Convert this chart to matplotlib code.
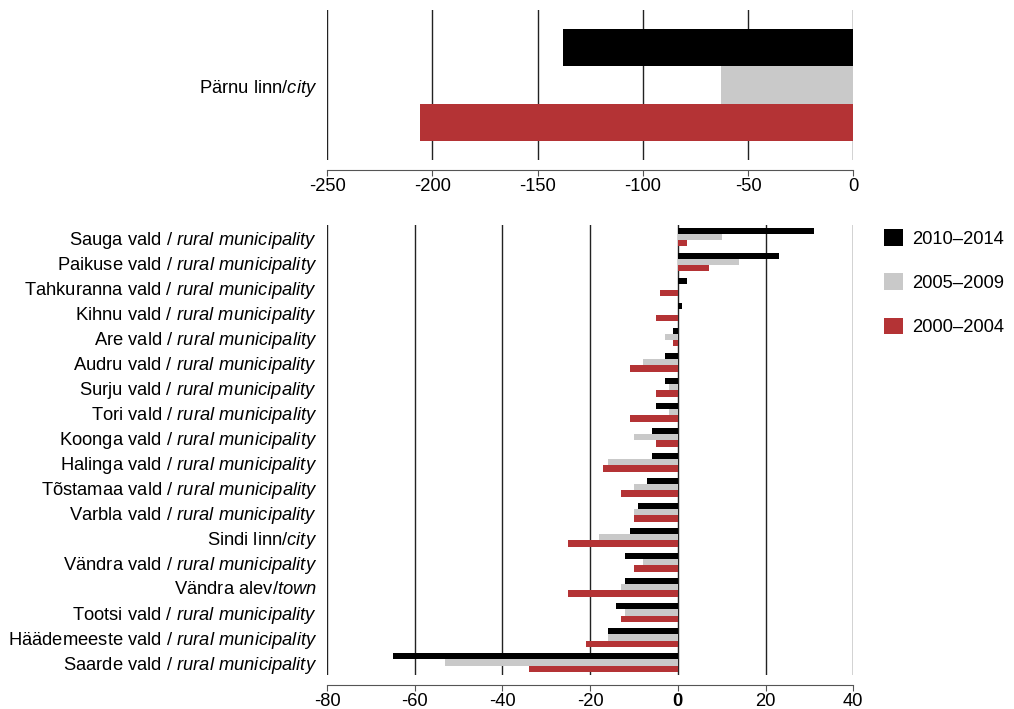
import matplotlib

matplotlib.use("Agg")
import matplotlib.pyplot as plt
from matplotlib.patches import Patch

plt.rcParams["font.family"] = ["Liberation Sans", "DejaVu Sans"]
plt.rcParams["mathtext.fontset"] = "custom"
plt.rcParams["mathtext.rm"] = "Liberation Sans"
plt.rcParams["mathtext.it"] = "Liberation Sans:italic"
plt.rcParams["axes.unicode_minus"] = False

PERIODS = ["2010–2014", "2005–2009", "2000–2004"]
COLORS = ["#000000", "#c9c9c9", "#b43335"]

# top panel: the city on its own scale
CITY = r"Pärnu linn/$\mathit{city}$"
CITY_VALUES = [-138, -63, -206]

# lower panel: everything else
PLACES = [
    r"Sauga vald $\mathit{/\ rural\ municipality}$",
    r"Paikuse vald $\mathit{/\ rural\ municipality}$",
    r"Tahkuranna vald $\mathit{/\ rural\ municipality}$",
    r"Kihnu vald $\mathit{/\ rural\ municipality}$",
    r"Are vald $\mathit{/\ rural\ municipality}$",
    r"Audru vald $\mathit{/\ rural\ municipality}$",
    r"Surju vald $\mathit{/\ rural\ municipality}$",
    r"Tori vald $\mathit{/\ rural\ municipality}$",
    r"Koonga vald $\mathit{/\ rural\ municipality}$",
    r"Halinga vald $\mathit{/\ rural\ municipality}$",
    r"Tõstamaa vald $\mathit{/\ rural\ municipality}$",
    r"Varbla vald $\mathit{/\ rural\ municipality}$",
    r"Sindi linn/$\mathit{city}$",
    r"Vändra vald $\mathit{/\ rural\ municipality}$",
    r"Vändra alev/$\mathit{town}$",
    r"Tootsi vald $\mathit{/\ rural\ municipality}$",
    r"Häädemeeste vald $\mathit{/\ rural\ municipality}$",
    r"Saarde vald $\mathit{/\ rural\ municipality}$",
]
P2010 = [31, 23, 2, 1, -1, -3, -3, -5, -6, -6, -7, -9, -11, -12, -12, -14, -16, -65]
P2005 = [10, 14, 0, 0, -3, -8, -2, -2, -10, -16, -10, -10, -18, -8, -13, -12, -16, -53]
P2000 = [2, 7, -4, -5, -1, -11, -5, -11, -5, -17, -13, -10, -25, -10, -25, -13, -21, -34]

FS = 13.2
GRID = "#222222"


def style_axis(ax, ticks):
    ax.set_xticks(ticks)
    ax.set_xticklabels([f"{t:g}" for t in ticks])
    for t in ticks:
        ax.axvline(t, color=GRID, lw=1, zorder=0)
    for side in ("top", "right", "left"):
        ax.spines[side].set_visible(False)
    ax.spines["bottom"].set_position(("outward", 7))
    ax.spines["bottom"].set_color("#555555")
    ax.tick_params(axis="x", length=4, color="#555555", pad=2, labelsize=FS)
    ax.tick_params(axis="y", length=0, pad=7, labelsize=FS)


fig = plt.figure(figsize=(10.14, 7.09), dpi=100)

top = fig.add_axes([0.3225, 0.774, 0.519, 0.212])
for i, (v, c) in enumerate(zip(CITY_VALUES, COLORS)):
    top.barh(1 - i, v, height=1.0, color=c, zorder=2)
top.set_xlim(-250, 0)
top.set_ylim(-2.0, 2.0)
top.set_yticks([0])
top.set_yticklabels([CITY])
style_axis(top, [-250, -200, -150, -100, -50, 0])

low = fig.add_axes([0.3225, 0.048, 0.519, 0.635])
h = 0.245
ys = list(range(len(PLACES)))
for k, (vals, c) in enumerate(zip([P2010, P2005, P2000], COLORS)):
    low.barh([y + (k - 1) * h for y in ys], vals, height=h, color=c, zorder=2)
low.set_xlim(-80, 40)
low.set_ylim(len(PLACES) - 0.5, -0.5)
low.set_yticks(ys)
low.set_yticklabels(PLACES)
style_axis(low, [-80, -60, -40, -20, 0, 20, 40])
for lab in low.get_xticklabels():
    if lab.get_text() == "0":
        lab.set_fontweight("bold")

handles = [Patch(facecolor=c, edgecolor="none") for c in COLORS]
fig.legend(
    handles, PERIODS, loc="upper left", bbox_to_anchor=(0.856, 0.700),
    frameon=False, fontsize=FS, handlelength=1.0, handleheight=1.0,
    labelspacing=1.4, handletextpad=0.5,
)

fig.savefig("out.png", dpi=100)
